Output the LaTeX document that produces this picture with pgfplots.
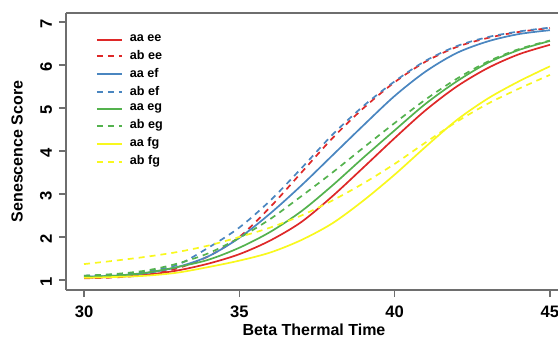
\documentclass[border=0pt]{standalone}
\usepackage{fontspec}
\setmainfont{Liberation Sans}
\usepackage{pgfplots}
\pgfplotsset{compat=1.18}
\definecolor{cred}{RGB}{222,40,40}
\definecolor{cblue}{RGB}{74,134,192}
\definecolor{cgreen}{RGB}{84,178,78}
\definecolor{cyellow}{RGB}{248,248,30}
\definecolor{caxis}{RGB}{110,110,110}
\tikzset{lw/.style={line width=0.85pt}, dsh/.style={line width=0.85pt, dash pattern=on 3pt off 2.5pt}}
\begin{document}
\begin{tikzpicture}
\begin{axis}[name=ax, scale only axis, width=246pt, height=138.5pt,
  xmin=29.42, xmax=45.26, ymin=0.767, ymax=7.21,
  axis x line*=box, axis y line*=left,
  axis line style={-, caxis, line width=0.7pt},
  xtick={30,35,40,45}, ytick={1,2,3,4,5,6,7},
  xtick pos=left, ytick pos=left,
  tick align=outside, major tick length=3.5pt,
  tick style={caxis, line width=0.6pt},
  /pgf/number format/assume math mode=true,
  xticklabel style={font=\bfseries\fontsize{8.3}{9}\selectfont, yshift=-1pt},
  yticklabel style={font=\bfseries\fontsize{8.3}{9}\selectfont, rotate=90, anchor=south, xshift=-1pt},
  xlabel={Beta Thermal Time}, ylabel={Senescence Score},
  every axis x label/.style={at={(rel axis cs:0.504,0)}, yshift=-20pt, anchor=center, font=\bfseries\fontsize{8}{9}\selectfont},
  every axis y label/.style={at={(rel axis cs:0,0.5)}, xshift=-24.5pt, rotate=90, anchor=center, font=\bfseries\fontsize{8}{9}\selectfont},
  legend style={draw=none, fill=none, at={(rel axis cs:0.06,0.93)}, anchor=north west,
    font=\bfseries\fontsize{6.3}{7}\selectfont, row sep=0.9pt, column sep=2.5pt, inner sep=0pt,
    nodes={inner sep=1pt}},
  legend cell align=left,
  legend image code/.code={\draw[#1, line width=1pt] (0pt,0pt) -- (12.5pt,0pt);},
  every axis plot/.append style={smooth, tension=0.5},
]
\addplot[cred, lw] coordinates {(30,1.05)(31,1.07)(32,1.12)(33,1.22)(34,1.38)(35,1.6)(36,1.92)(37,2.35)(38,2.95)(39,3.62)(40,4.3)(41,4.95)(42,5.5)(43,5.93)(44,6.25)(45,6.47)};
\addlegendentry{aa ee}
\addplot[cred, dsh] coordinates {(30,1.04)(31,1.06)(32,1.12)(33,1.27)(34,1.55)(35,2.0)(36,2.7)(37,3.5)(38,4.3)(39,5.0)(40,5.6)(41,6.08)(42,6.42)(43,6.63)(44,6.77)(45,6.86)};
\addlegendentry{ab ee}
\addplot[cblue, lw] coordinates {(30,1.08)(31,1.1)(32,1.16)(33,1.3)(34,1.55)(35,1.98)(36,2.55)(37,3.2)(38,3.9)(39,4.6)(40,5.28)(41,5.85)(42,6.28)(43,6.55)(44,6.72)(45,6.81)};
\addlegendentry{aa ef}
\addplot[cblue, dsh] coordinates {(30,1.1)(31,1.13)(32,1.2)(33,1.35)(34,1.75)(35,2.22)(36,2.85)(37,3.6)(38,4.38)(39,5.05)(40,5.62)(41,6.1)(42,6.44)(43,6.65)(44,6.78)(45,6.87)};
\addlegendentry{ab ef}
\addplot[cgreen, lw] coordinates {(30,1.07)(31,1.1)(32,1.17)(33,1.3)(34,1.47)(35,1.75)(36,2.12)(37,2.6)(38,3.2)(39,3.85)(40,4.48)(41,5.1)(42,5.62)(43,6.05)(44,6.35)(45,6.56)};
\addlegendentry{aa eg}
\addplot[cgreen, dsh] coordinates {(30,1.1)(31,1.14)(32,1.22)(33,1.38)(34,1.62)(35,1.98)(36,2.42)(37,2.95)(38,3.5)(39,4.08)(40,4.65)(41,5.2)(42,5.68)(43,6.08)(44,6.37)(45,6.57)};
\addlegendentry{ab eg}
\addplot[cyellow, lw] coordinates {(30,1.05)(31,1.07)(32,1.1)(33,1.17)(34,1.3)(35,1.45)(36,1.64)(37,1.93)(38,2.32)(39,2.85)(40,3.45)(41,4.1)(42,4.72)(43,5.22)(44,5.62)(45,5.97)};
\addlegendentry{aa fg}
\addplot[cyellow, dsh] coordinates {(30,1.37)(31,1.45)(32,1.54)(33,1.65)(34,1.8)(35,2.0)(36,2.22)(37,2.5)(38,2.85)(39,3.25)(40,3.7)(41,4.2)(42,4.68)(43,5.1)(44,5.45)(45,5.77)};
\addlegendentry{ab fg}
\end{axis}
\pgfresetboundingbox
\useasboundingbox ([xshift=-33pt,yshift=-25pt]ax.south west) rectangle ([yshift=6.5pt]ax.north east);
\end{tikzpicture}
\end{document}
